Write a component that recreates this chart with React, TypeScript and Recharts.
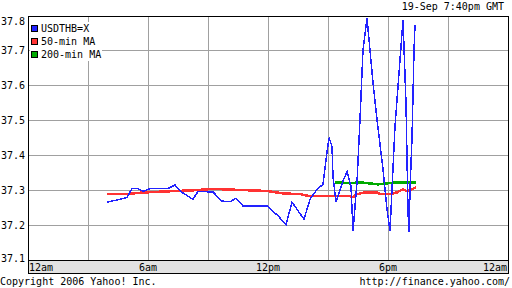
import { LineChart, Line, XAxis, YAxis, ReferenceLine, Legend } from "recharts";

const FONT = "'DejaVu Sans Mono', monospace";

// x axis: hours since midnight GMT
const hourTicks = [0, 6, 12, 18, 24];
const hourLabels = ["12am", "6am", "12pm", "6pm", "12am"];
const gridHours = [0, 3, 6, 9, 12, 15, 18, 21, 24];
const minorHours = [
  0, 0.5, 1, 1.5, 2, 2.5, 3, 3.5, 4, 4.5, 5, 5.5, 6, 6.5, 7, 7.5, 8, 8.5, 9, 9.5, 10, 10.5, 11, 11.5, 12,
  12.5, 13, 13.5, 14, 14.5, 15, 15.5, 16, 16.5, 17, 17.5, 18, 18.5, 19, 19.5, 20, 20.5, 21, 21.5, 22, 22.5,
  23, 23.5, 24,
];
const priceTicks = [37.1, 37.2, 37.3, 37.4, 37.5, 37.6, 37.7, 37.8];

// USDTHB=X
const usdTime = [
  3.95, 4.6, 4.95, 5.2, 5.5, 5.75, 6.1, 7.0, 7.35, 7.7, 8.25, 8.5, 9.25, 9.7, 10.1, 10.4, 10.75, 11.95,
  12.5, 12.9, 13.2, 13.8, 14.1, 14.45, 14.75, 14.95, 15.05, 15.2, 15.25, 15.4, 15.75, 15.95, 16.15, 16.25,
  16.45, 16.6, 16.75, 16.95, 17.25, 17.45, 17.75, 17.95, 18.1, 18.35, 18.6, 18.75, 18.9, 19.0, 19.05, 19.1,
  19.2, 19.3, 19.35,
];
const usdRate = [
  37.266, 37.274, 37.279, 37.305, 37.305, 37.297, 37.305, 37.305, 37.315, 37.294, 37.274, 37.297, 37.295,
  37.269, 37.267, 37.277, 37.255, 37.255, 37.227, 37.201, 37.266, 37.217, 37.274, 37.303, 37.317, 37.409,
  37.451, 37.426, 37.34, 37.266, 37.326, 37.354, 37.311, 37.183, 37.323, 37.503, 37.703, 37.794, 37.609,
  37.503, 37.36, 37.246, 37.183, 37.483, 37.674, 37.789, 37.55, 37.24, 37.18, 37.3, 37.45, 37.7, 37.775,
];

// 50-min MA
const ma50Time = [
  3.95, 5.0, 5.6, 7.0, 8.3, 9.0, 9.7, 11.95, 12.75, 13.6, 14.1, 16.1, 16.25, 16.45, 16.85, 17.45, 17.6,
  18.1, 18.45, 18.75, 18.95, 19.2, 19.4,
];
const ma50Rate = [
  37.289, 37.289, 37.293, 37.297, 37.3, 37.303, 37.303, 37.298, 37.291, 37.289, 37.283, 37.283, 37.28,
  37.289, 37.294, 37.294, 37.289, 37.289, 37.294, 37.303, 37.297, 37.303, 37.309,
];

// 200-min MA
const ma200Time = [15.35, 16.1, 16.6, 17.5, 18.45, 19.4];
const ma200Rate = [37.323, 37.32, 37.323, 37.317, 37.323, 37.323];

const toRows = (ts: number[], vs: number[]) => ts.map((t, i) => ({ t, v: vs[i] }));
const usdData = toRows(usdTime, usdRate);
const ma50Data = toRows(ma50Time, ma50Rate);
const ma200Data = toRows(ma200Time, ma200Rate);

const legendItems = [
  { label: "USDTHB=X", color: "#2222ff" },
  { label: "50-min MA", color: "#ff3333" },
  { label: "200-min MA", color: "#00aa00" },
];

const GRID = "#a0a0a0";

const XTick = (props: any) => {
  const { x, y, payload } = props;
  const i = hourTicks.indexOf(payload.value);
  const anchor = i === 0 ? "start" : i === hourTicks.length - 1 ? "end" : "middle";
  const dx = i === 0 ? 1 : i === hourTicks.length - 1 ? -1 : 0;
  return (
    <text x={x + dx} y={y + 10} textAnchor={anchor} fontSize={10} fontFamily={FONT} fill="#000">
      {hourLabels[i]}
    </text>
  );
};

const YTick = (props: any) => {
  const { x, y, payload } = props;
  let dy = 3.5;
  if (payload.value === 37.8) dy = 8.5;
  if (payload.value === 37.1) dy = 1.5;
  return (
    <text x={x} y={y + dy} textAnchor="end" fontSize={10} fontFamily={FONT} fill="#000">
      {payload.value.toFixed(1)}
    </text>
  );
};

const LegendBox = () => (
  <div style={{ background: "#fff", fontFamily: FONT, fontSize: 10, paddingLeft: 1, paddingRight: 1 }}>
    {legendItems.map((it) => (
      <div key={it.label} style={{ display: "flex", alignItems: "center", height: 13, whiteSpace: "nowrap" }}>
        <span
          style={{
            display: "inline-block",
            width: 7,
            height: 7,
            boxSizing: "border-box",
            border: "1px solid #000",
            background: it.color,
            marginRight: 3,
          }}
        />
        <span>{it.label}</span>
      </div>
    ))}
  </div>
);

const tickAxis = {
  type: "number" as const,
  domain: [0, 24],
  interval: 0,
  allowDataOverflow: true,
  tick: false,
  tickMargin: 0,
  tickLine: { stroke: "#000" },
};

export default function App() {
  return (
    <div
      style={{
        position: "absolute",
        left: 0,
        top: 0,
        width: 512,
        height: 288,
        background: "#fff",
        fontFamily: FONT,
        fontSize: 10,
        color: "#000",
        overflow: "hidden",
      }}
    >
      {/* gray time band under the plot */}
      <div
        style={{
          position: "absolute",
          left: 28,
          top: 260,
          width: 481,
          height: 14,
          boxSizing: "border-box",
          border: "1px solid #000",
          background: "#e2e2e2",
        }}
      />
      <div style={{ position: "absolute", right: 8, top: 1, lineHeight: "12px" }}>19-Sep 7:40pm GMT</div>
      <div style={{ position: "absolute", left: 0, top: 276, lineHeight: "12px" }}>Copyright 2006 Yahoo! Inc.</div>
      <div style={{ position: "absolute", right: 2, top: 276, lineHeight: "12px" }}>http://finance.yahoo.com/</div>

      <LineChart
        width={512}
        height={288}
        margin={{ top: 14, right: 3, left: 0, bottom: 14 }}
        style={{ shapeRendering: "crispEdges" }}
      >
        <XAxis {...tickAxis} xAxisId="bt" orientation="bottom" ticks={minorHours} height={1} tickSize={-3} axisLine={{ stroke: "#000" }} />
        <XAxis
          xAxisId="t"
          dataKey="t"
          type="number"
          domain={[0, 24]}
          ticks={hourTicks}
          interval={0}
          allowDataOverflow
          height={13}
          tickSize={0}
          tickMargin={0}
          tickLine={false}
          axisLine={false}
          tick={<XTick />}
        />
        <XAxis {...tickAxis} xAxisId="top" orientation="top" ticks={minorHours} height={1} tickSize={-3} axisLine={{ stroke: "#000" }} />
        <XAxis {...tickAxis} xAxisId="topMajor" orientation="top" ticks={gridHours} height={1} tickSize={-6} axisLine={false} />
        <YAxis
          yAxisId="p"
          type="number"
          domain={[37.1, 37.8]}
          ticks={priceTicks}
          interval={0}
          allowDataOverflow
          width={28}
          tickSize={0}
          tickMargin={3}
          tickLine={false}
          axisLine={{ stroke: "#000" }}
          tick={<YTick />}
        />
        <YAxis
          yAxisId="r"
          orientation="right"
          type="number"
          domain={[37.1, 37.8]}
          ticks={priceTicks}
          interval={0}
          allowDataOverflow
          width={1}
          tick={false}
          tickSize={-5}
          tickMargin={0}
          tickLine={{ stroke: "#000" }}
          axisLine={{ stroke: "#000" }}
        />
        {gridHours.slice(1, -1).map((h) => (
          <ReferenceLine key={`gx${h}`} xAxisId="t" yAxisId="p" x={h} stroke={GRID} strokeWidth={1} />
        ))}
        {priceTicks.slice(1, -1).map((p) => (
          <ReferenceLine key={`gy${p}`} xAxisId="t" yAxisId="p" y={p} stroke={GRID} strokeWidth={1} />
        ))}
        <Legend
          layout="vertical"
          align="center"
          verticalAlign="middle"
          wrapperStyle={{ position: "absolute", left: 30, top: 22, width: "auto", height: "auto" }}
          content={<LegendBox />}
        />
        <Line
          xAxisId="t"
          yAxisId="p"
          data={ma50Data}
          dataKey="v"
          name="50-min MA"
          type="linear"
          stroke="#ff3333"
          strokeWidth={2.5}
          dot={false}
          isAnimationActive={false}
        />
        <Line
          xAxisId="t"
          yAxisId="p"
          data={ma200Data}
          dataKey="v"
          name="200-min MA"
          type="linear"
          stroke="#00aa00"
          strokeWidth={2.5}
          dot={false}
          isAnimationActive={false}
        />
        <Line
          xAxisId="t"
          yAxisId="p"
          data={usdData}
          dataKey="v"
          name="USDTHB=X"
          type="linear"
          stroke="#2222ff"
          strokeWidth={1.5}
          dot={false}
          isAnimationActive={false}
        />
      </LineChart>
    </div>
  );
}
